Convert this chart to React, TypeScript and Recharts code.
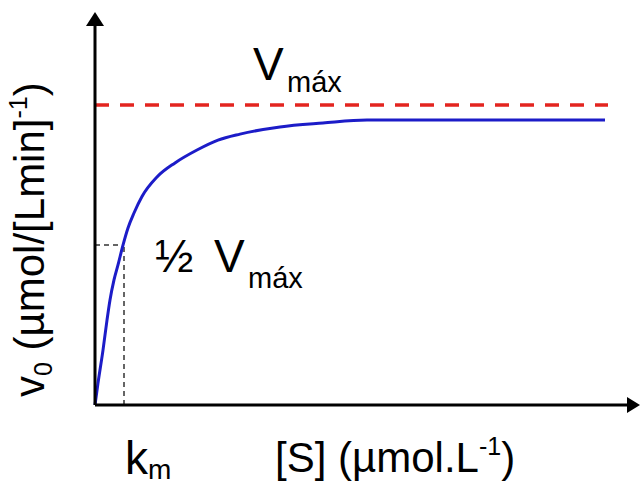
import { LineChart, Line, XAxis, YAxis, ReferenceLine, ReferenceDot, Customized } from 'recharts';

// [S] in arbitrary units, v0 in arbitrary units (Vmax = 100)
const substrate = [0, 0.3, 0.8, 1.2, 1.5, 1.9, 2.3, 2.8, 3.3, 3.9, 4.7, 6.2, 8.0, 10.2, 12.3, 14.5, 18.5, 22.8, 27.2, 35.5, 51];
const velocity = [0, 7.3, 18.3, 28.3, 35, 41.7, 46.7, 53.3, 59, 64, 69.5, 76, 80.7, 85, 88.3, 90.3, 92.7, 94, 95, 95, 95];

const vmax = 100;
const halfV = 53.3;
const km = 2.9;
const xMax = 54;
const yMax = 130;
const vmaxEnd = 51.3;

const data = substrate.map((s, i) => ({ s, v: velocity[i] }));

const font = '"Liberation Sans", Arial, sans-serif';

function Labels() {
  return (
    <g fontFamily={font} fill="#000">
      <text x={253} y={80} fontSize={46}>V</text>
      <text x={287} y={92} fontSize={29}>máx</text>

      <text x={155} y={272} fontSize={46}>½</text>
      <text x={214} y={272} fontSize={46}>V</text>
      <text x={248} y={288} fontSize={29}>máx</text>

      <text x={125} y={474} fontSize={46}>k</text>
      <text x={148} y={479} fontSize={28}>m</text>

      <text x={275} y={472} fontSize={42}>
        [S] (µmol.L<tspan fontSize={25} dy={-17}>-1</tspan><tspan dy={17}>)</tspan>
      </text>

      <text x={44} y={397} fontSize={42} transform="rotate(-90, 44, 397)">
        v<tspan fontSize={25} dy={8}>0</tspan>
        <tspan dy={-8}> (µmol/[Lmin]</tspan>
        <tspan fontSize={25} dy={-17}>-1</tspan>
        <tspan dy={17}>)</tspan>
      </text>
    </g>
  );
}

const upArrow = (p: any) => (
  <polygon points={`${p.cx},${p.cy - 3} ${p.cx - 9},${p.cy + 11} ${p.cx + 9},${p.cy + 11}`} fill="#000" />
);
const rightArrow = (p: any) => (
  <polygon points={`${p.cx + 5},${p.cy} ${p.cx - 8},${p.cy - 8} ${p.cx - 8},${p.cy + 8}`} fill="#000" />
);

export default function App() {
  return (
    <div style={{ position: 'absolute', left: 0, top: 0, background: '#fff' }}>
      <LineChart width={640} height={486} data={data} margin={{ top: 15, right: 5, bottom: 81, left: 95 }}>
        <XAxis type="number" dataKey="s" domain={[0, xMax]} hide />
        <YAxis type="number" domain={[0, yMax]} hide />
        <ReferenceLine
          segment={[{ x: 0, y: vmax }, { x: vmaxEnd, y: vmax }]}
          stroke="#e3241f"
          strokeWidth={3.5}
          strokeDasharray="14 11"
          ifOverflow="visible"
        />
        <ReferenceLine
          segment={[{ x: 0, y: halfV }, { x: km, y: halfV }]}
          stroke="#333"
          strokeWidth={1.5}
          strokeDasharray="5 4"
        />
        <ReferenceLine
          segment={[{ x: km, y: 0 }, { x: km, y: halfV }]}
          stroke="#333"
          strokeWidth={1.5}
          strokeDasharray="5 4"
        />
        <Line
          type="monotone"
          dataKey="v"
          stroke="#1c1cc8"
          strokeWidth={3}
          dot={false}
          isAnimationActive={false}
        />
        <ReferenceLine
          segment={[{ x: 0, y: 0 }, { x: xMax, y: 0 }]}
          stroke="#000"
          strokeWidth={3}
          ifOverflow="visible"
        />
        <ReferenceLine
          segment={[{ x: 0, y: 0 }, { x: 0, y: yMax }]}
          stroke="#000"
          strokeWidth={3}
          ifOverflow="visible"
        />
        <ReferenceDot x={0} y={yMax} r={9} ifOverflow="visible" shape={upArrow} />
        <ReferenceDot x={xMax} y={0} r={9} ifOverflow="visible" shape={rightArrow} />
        <Customized component={Labels} />
      </LineChart>
    </div>
  );
}
